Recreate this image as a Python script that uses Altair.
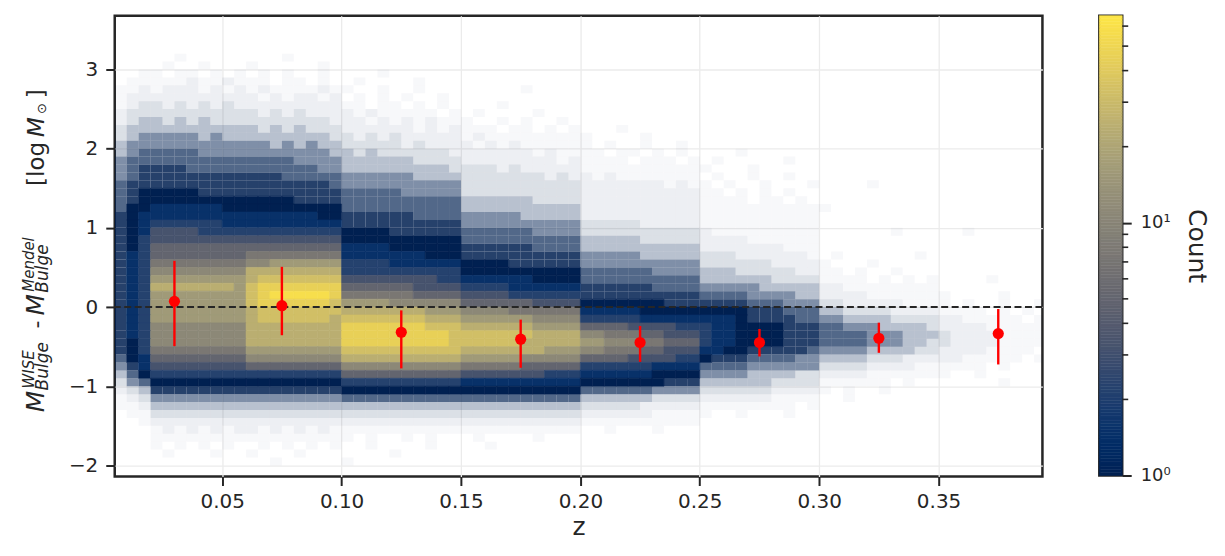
import altair as alt
import pandas as pd
import numpy as np

# ---------------- data ----------------
# 2-D histogram, summarised on a coarse grid: columns of width 0.005 in z starting at 0.005,
# rows of height 0.1 starting at y = 3.7 (top) going down.  Each character is the mean count
# per fine histogram bin in that cell (see LEVELS); '.' = empty.  '|' only separates z ranges:
# .005-.02 | .02-.06 | .06-.10 | .10-.15 | .15-.20 | .20-.25 | .25-.30 | .30-.35 | .35-.395
Z_START, Z_STEP = 0.005, 0.005
Y_START, Y_STEP = 3.7, 0.1
LEVELS = {'.': 0, 'a': 0.03, 'b': 0.07, 'c': 0.14, 'd': 0.28, 'e': 0.5, 'f': 0.68, 'g': 0.85,
          '1': 1, '2': 1.5, '3': 2.2, '4': 3.3, '5': 5, '6': 7.5, '7': 11, '8': 16,
          '9': 24, 'A': 33, 'B': 45, 'C': 58}
E = "...|........|........|..........|..........|..........|..........|..........|........."
GRID = [
    E, E, E, E, E,
    "...|..a.....|...a....|..........|..........|..........|..........|..........|.........",
    "...|.a..a...|a.....a.|..........|..........|..........|..........|..........|.........",
    "..a|a.aa.a.a|.a.a..a.|...a......|..........|..........|..........|..........|.........",
    ".aa|aaabaaba|aa.aa.a.|.a....a...|..........|..........|..........|..........|.........",
    "aab|abbbabab|abaaaaba|a..a..a...|.....a....|..........|..........|..........|.........",
    "abb|bbbbbbbb|bababbab|.a.a.a..a.|..........|..........|..........|..........|.........",
    "abc|cbcbcbcb|bbbbbbbb|aa.aa.a.a.|...a......|..........|..........|..........|.........",
    "bcc|cccccccc|cbcbcbbb|babaaaaa.a|.a....a...|..........|..........|..........|.........",
    "bcd|dcdcdccc|cccccccb|bbabababaa|a..a.a..a.|..........|..........|..........|.........",
    "cdd|dddddddd|dcdcdccc|bbbbbbabab|aaa.aa.a.a|...a......|..........|..........|.........",
    "cde|eeeededd|dddddddc|cbcbcbbbbb|abaaaaaaaa|a....a....|..........|..........|.........",
    "dee|eeeeeeee|eedededd|cccccbcbbb|bababaaaaa|a.a..a..a.|..........|..........|.........",
    "def|ffffeeee|eeeeeeed|dcdccccccb|bbbbbbabaa|aa.aa.a.a.|...a......|..........|.........",
    "eff|ffffffff|ffffeeee|ddddddcccc|bbbbbbbbab|aaaa.aaa.a|.a.....a..|..........|.........",
    "efg|gggfffff|ffffffee|dddddddddc|cccbcbbbbb|aaaaaaaaaa|a...a.....|..........|.........",
    "efg|gggggggg|gggfffff|eeeeeedddd|cccccccbcb|babaaaaaaa|.a..a..a..|..........|.........",
    "fgg|gggggggg|gggggggf|eeeeeeeeee|cccccccccc|bbbbbbbaba|a.a..a...a|....a.....|.........",
    "fg1|1111gggg|gggggggg|fffffeeeee|cccccccccc|bbbbbbbbbb|aa.a.a.a..|..........|.........",
    "fg1|11111111|1111gggg|ffffffffff|ddddddcccc|bbbbbbbbbb|aaaa.aa.a.|..........|.........",
    "f11|22222211|11111111|ffffffffff|dddddddddd|bbbbbbbbbb|aaaaaaaaaa|a.........|.........",
    "g12|22222222|22222211|ggggggffff|eeeeeddddd|bbbbbbbbbb|aaaaaaaaaa|..........|.........",
    "g12|33333322|22222222|gggggggggg|eeeeeeeeee|cccccbbbbb|aaaaaaaaaa|..........|.........",
    "g12|44443333|33333333|1111gggggg|ffffffeeee|cccccccccc|baaaaaaaaa|......a...|..a......",
    "g13|44444444|44444444|1111111111|ffffffffff|dddddccccc|bbbbaaaaaa|..........|.........",
    "g13|55555555|55555555|2222111111|ggggggffff|dddddddddd|bbbbbbbaaa|..........|.........",
    "g23|55555555|66666666|2222222111|gggggggggg|eeeeeddddd|cccbbbbbba|.a......a.|.........",
    "g23|66666666|77888888|3333222222|1111gggggg|eeeeeeeeee|ccccccbbbb|a...a.....|.........",
    "g23|77777777|99999999|3333333333|1111111111|ffffffeeee|dddcccccbb|aa.a..a...|.........",
    "g23|88888888|9AAAAAAA|4444444433|2222221111|ffffffffff|ddddddcccc|aaaa.a.a.a|....a....",
    "g23|99999998|ABBBBBBB|5555554444|3333222222|ggggggffff|eeeeeddddd|bbaaaaaaaa|.........",
    "g23|88888888|ABCCCCCB|6666665555|4444333333|gggggggggg|ffffeeeedd|bbbbaaaaaa|a....a...",
    "g23|88888888|ABBBBBBA|8888777777|5555554444|1111111ggg|ggggfffeee|ccbbbbbaaa|a.a..a..a",
    "g23|88888888|9AAAAAAA|9999999888|7777666666|2222211111|1111gggfff|ddccccbbbb|aaaa.a.a.",
    "g23|88888888|9AAAAAA9|AAAAAAA999|8888887777|3333322222|2221ggggff|eeddddcccc|bbaaaaa.a",
    "g23|77777777|99999999|BBBBBBBAAA|9999998888|5555444433|3221111ggg|ffeeeddddc|bbbbaaaaa",
    "g23|77777777|99999999|BBBBBBBBBA|AAAAAA9999|7766655444|3221111ggg|ffffeeeddd|cbbbbaaaa",
    "g13|77777777|99999999|BBBBBBBBBA|AAAAA99999|8877766555|3221111ggg|ffffeeeddc|cbbbbaaaa",
    "g13|66666666|88888888|AAAAAAAAAA|9999999888|7766655444|2211gggggf|eeeeddddcc|bbbbaaaa.",
    "f12|55555555|77777777|9999999999|8888877777|5555444433|1gggffffee|ddddcccbbb|bbaaaaa.a",
    "eg2|44444444|55555555|7777777777|6666655555|3333332222|ffffeeeeee|ccccbbbbaa|aaaa.a...",
    "df1|33333333|33333333|5555555555|4444444333|2222221111|eeeeddddcc|bbbbaaaaaa|a..a.....",
    "cef|11111111|11111111|3333333333|2222222222|1111111ggg|ddddddcccc|aaaaaa.a..|.....a...",
    "bcd|gggggggg|gggggggg|1111111111|1111111111|ffffffeeee|ccccccbbbb|a.a..a....|.........",
    "abc|eeeeeeee|eeeeeeee|ffffffffff|ffffffffff|ddddddcccc|bbbbbbaaaa|..a.......|.........",
    "aab|dddddddd|dddddddd|dddddddddd|dddddddddd|cccccbbbbb|aaaaaaaa.a|..........|.........",
    ".aa|cccccccc|cccccccc|cccccccccc|cccccccccc|bbbbbbaaaa|a..a...a..|..........|.........",
    "..a|bbbbbbbb|bbbbbbbb|bbbbbbbbbb|bbbbbbbbbb|aaaaaaaaaa|..........|..........|.........",
    "...|abababab|babababa|aaaaaaaaaa|aaaaaaaaaa|..a...a...|..........|..........|.........",
    "...|aaaaaaaa|aaaaaaaa|a.a..a.a..|.a....a...|..........|..........|..........|.........",
    "...|a.a.a.a.|.a.a.a.a|..a....a..|..a.......|..........|..........|..........|.........",
    "...|.a...a..|a...a...|....a.....|..........|..........|..........|..........|.........",
    "...|........|..a.....|a.........|..........|..........|..........|..........|.........",
    E,
]

# binned medians (red points) with their spread
BIN_Z = [0.03, 0.075, 0.125, 0.175, 0.225, 0.275, 0.325, 0.375]
BIN_MED = [0.072, 0.017, -0.318, -0.406, -0.448, -0.448, -0.394, -0.335]
BIN_LO = [-0.494, -0.356, -0.775, -0.767, -0.692, -0.624, -0.578, -0.725]
BIN_HI = [0.584, 0.508, -0.042, -0.159, -0.239, -0.277, -0.197, -0.025]

X_TICKS = [0.05, 0.10, 0.15, 0.20, 0.25, 0.30, 0.35]
Y_TICKS = [-2, -1, 0, 1, 2, 3]
X_DOMAIN = [0.005, 0.3935]
Y_DOMAIN = [-2.14, 3.68]
COUNT_MAX = 66
CBAR_MAJOR = [1, 10]
CBAR_MINOR = [2, 3, 4, 5, 6, 7, 8, 9, 20, 30, 40, 50, 60]

# ---------------- build tables ----------------
cells = []
ncol = int(round((X_DOMAIN[1] - Z_START) / Z_STEP)) + 1
for i, row in enumerate(GRID):
    s = row.replace("|", "").ljust(ncol, ".")
    for j, ch in enumerate(s):
        v = LEVELS.get(ch, 0)
        if v > 0:
            cells.append({
                "z0": round(Z_START + j * Z_STEP, 4), "z1": round(Z_START + (j + 1) * Z_STEP, 4),
                "y1": round(Y_START - i * Y_STEP, 3), "y0": round(Y_START - (i + 1) * Y_STEP, 3),
                "v": v,
            })
cells = pd.DataFrame(cells)
cells["c"] = np.maximum(cells["v"], 1.0)
cells["op"] = np.minimum(cells["v"], 1.0)
solid = cells[cells["v"] >= 1]
faint = cells[cells["v"] < 1]

bins = pd.DataFrame({"z": BIN_Z, "med": BIN_MED, "lo": BIN_LO, "hi": BIN_HI})

INK = "#262626"
FONT = "DejaVu Sans"

xscale = alt.Scale(domain=X_DOMAIN, nice=False, zero=False)
yscale = alt.Scale(domain=Y_DOMAIN, nice=False, zero=False)
cscale = alt.Scale(type="log", domain=[1, COUNT_MAX], scheme="cividis")

xaxis = alt.Axis(values=X_TICKS, format=".2f", grid=True, gridColor="#ebebeb", gridWidth=1.3,
                 tickSize=9, tickWidth=2, tickColor=INK, domain=False, labelFontSize=20,
                 labelColor=INK, labelPadding=6, labelFont=FONT, title="z", titleFontSize=25,
                 titleColor=INK, titleFont=FONT, titleFontWeight="normal", titlePadding=3)
yaxis = alt.Axis(values=Y_TICKS, grid=True, gridColor="#ebebeb", gridWidth=1.3,
                 tickSize=9, tickWidth=2, tickColor=INK, domain=False, labelFontSize=20,
                 labelColor=INK, labelPadding=8, labelFont=FONT, title=None,
                 labelExpr="datum.value < 0 ? '\u2212' + format(-datum.value, 'd') : format(datum.value, 'd')")

faint_layer = alt.Chart(faint).mark_rect(clip=True).encode(
    x=alt.X("z0:Q", scale=xscale, axis=xaxis), x2="z1:Q",
    y=alt.Y("y0:Q", scale=yscale, axis=yaxis), y2="y1:Q",
    color=alt.Color("c:Q", scale=cscale, legend=None),
    opacity=alt.Opacity("op:Q", scale=None),
)
solid_layer = alt.Chart(solid).mark_rect(clip=True, strokeWidth=0.6).encode(
    x=alt.X("z0:Q", scale=xscale, axis=xaxis), x2="z1:Q",
    y=alt.Y("y0:Q", scale=yscale, axis=yaxis), y2="y1:Q",
    color=alt.Color("c:Q", scale=cscale, legend=None),
    stroke=alt.Stroke("c:Q", scale=cscale, legend=None),
)
zero_line = alt.Chart(pd.DataFrame({"y": [0.0]})).mark_rule(
    color=INK, strokeDash=[7, 3.5], strokeWidth=2).encode(y=alt.Y("y:Q", scale=yscale))
err = alt.Chart(bins).mark_rule(color="#ff0000", strokeWidth=2.4).encode(
    x=alt.X("z:Q", scale=xscale), y=alt.Y("lo:Q", scale=yscale), y2="hi:Q")
pts = alt.Chart(bins).mark_circle(color="#ff0000", size=125, opacity=1).encode(
    x=alt.X("z:Q", scale=xscale), y=alt.Y("med:Q", scale=yscale))

# y-axis title built from pieces (sub/superscripts), positioned in pixels of the view
OX, OY = 112.7, 13.3
def piece(txt, sx, sy, size, italic):
    return alt.Chart(pd.DataFrame({"t": [txt]})).mark_text(
        x=sx - OX, y=sy - OY, angle=270, align="left", baseline="alphabetic",
        font=FONT, fontSize=size, fontStyle="italic" if italic else "normal", color=INK,
    ).encode(text="t:N")

title_pieces = [
    piece("M", 42, 411, 25, True),
    piece("WISE", 32, 387, 15, True),
    piece("Bulge", 45.5, 389, 17, True),
    piece("-", 42, 327, 22, False),
    piece("M", 42, 314, 25, True),
    piece("Mendel", 32, 290, 15, True),
    piece("Bulge", 45.5, 291, 17, True),
    piece("[log", 42, 184, 23, False),
    piece("M", 42, 135, 23, True),
    piece("\u2299", 44, 112, 13, False),
    piece("]", 42, 96, 23, False),
]

bound = alt.Chart(pd.DataFrame({"a": [0]})).mark_rule(strokeOpacity=0, strokeWidth=1).encode(
    x=alt.value(-105.2), y=alt.value(-5.3), y2=alt.value(-4.3))

main = alt.layer(faint_layer, solid_layer, zero_line, err, pts, *title_pieces, bound).properties(
    width=930, height=462)

# ---------------- colorbar ----------------
edges = np.geomspace(1, COUNT_MAX, 161)
cb = pd.DataFrame({"lo": edges[:-1], "hi": edges[1:]})
cb["mid"] = np.sqrt(cb["lo"] * cb["hi"])
cbscale = alt.Scale(type="log", domain=[1, COUNT_MAX], nice=False)
cbaxis = alt.Axis(orient="right", values=CBAR_MAJOR, grid=False, domain=False, tickSize=9,
                  tickWidth=2, tickColor=INK, labelFontSize=18, labelColor=INK, labelFont=FONT,
                  labelPadding=9, labelExpr="datum.value == 1 ? '10\u2070' : '10\u00b9'",
                  title="Count", titleAngle=90, titleFontSize=25, titleFont=FONT,
                  titleFontWeight="normal", titleColor=INK, titlePadding=13)
cbar_rects = alt.Chart(cb).mark_rect(strokeWidth=0.5).encode(
    x=alt.value(0), x2=alt.value(23),
    y=alt.Y("lo:Q", scale=cbscale, axis=cbaxis), y2="hi:Q",
    color=alt.Color("mid:Q", scale=cscale, legend=None),
    stroke=alt.Stroke("mid:Q", scale=cscale, legend=None),
)
cbar_minor = alt.Chart(pd.DataFrame({"v": CBAR_MINOR})).mark_rule(color=INK, strokeWidth=1.6).encode(
    y=alt.Y("v:Q", scale=cbscale, axis=cbaxis), x=alt.value(23), x2=alt.value(29))
cbar_bound = alt.Chart(pd.DataFrame({"a": [0]})).mark_rule(strokeOpacity=0, strokeWidth=1).encode(
    x=alt.value(116), y=alt.value(200), y2=alt.value(201))
cbar = alt.layer(cbar_rects, cbar_minor, cbar_bound).properties(width=23, height=461)

chart = alt.hconcat(main, cbar, spacing=57, bounds="flush").properties(
    padding=0, background="white"
).configure_view(stroke=INK, strokeWidth=2.5)

chart.save("out.html", embed_options={"renderer": "svg", "actions": False})
